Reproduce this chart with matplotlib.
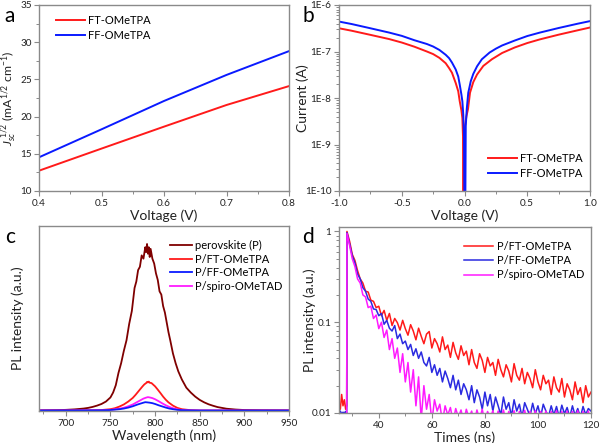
import numpy as np
import matplotlib
matplotlib.use("Agg")
import matplotlib.pyplot as plt
from matplotlib.ticker import MultipleLocator, NullLocator, LogLocator, FixedLocator, FixedFormatter, NullFormatter

plt.rcParams['font.family'] = ['Lato', 'DejaVu Sans']
plt.rcParams['mathtext.fontset'] = 'custom'
plt.rcParams['mathtext.rm'] = 'Lato'
plt.rcParams['mathtext.it'] = 'Lato:italic'

# ---------------- Panel a data ----------------
volt_a = [0.4, 0.5, 0.6, 0.7, 0.8]
jsc_ft = [12.73, 15.7, 18.65, 21.56, 24.1]
jsc_ff = [14.53, 18.29, 22.1, 25.6, 28.8]

# ---------------- Panel b data ----------------
volt_b_ft = [-1.0, -0.9, -0.75, -0.6, -0.5, -0.4, -0.3, -0.25, -0.2, -0.15, -0.123, -0.1, -0.07, -0.05,
             -0.038, -0.025, -0.017, -0.012, -0.008, -0.004, 0.0, 0.005, 0.015, 0.028, 0.044, 0.07, 0.1,
             0.15, 0.218, 0.3, 0.4, 0.5, 0.6, 0.75, 0.9, 1.0]
cur_ft = [3.16e-7, 2.8e-7, 2.28e-7, 1.85e-7, 1.56e-7, 1.27e-7, 1.0e-7, 8.8e-8, 7.3e-8, 5.6e-8, 4.4e-8,
          3.5e-8, 2.1e-8, 1.4e-8, 8.5e-9, 5.5e-9, 3.7e-9, 1.5e-9, 1e-12, 8e-10, 1.6e-9, 2.6e-9, 4e-9,
          5.8e-9, 1.3e-8, 2.2e-8, 3.2e-8, 4.9e-8, 6.8e-8, 9.3e-8, 1.22e-7, 1.52e-7, 1.82e-7, 2.3e-7,
          2.85e-7, 3.28e-7]
volt_b_ff = [-1.0, -0.9, -0.75, -0.6, -0.5, -0.4, -0.3, -0.25, -0.2, -0.15, -0.123, -0.1, -0.07, -0.05,
             -0.038, -0.025, -0.017, -0.01, -0.004, 0.003, 0.01, 0.018, 0.03, 0.05, 0.07, 0.1, 0.138,
             0.2, 0.25, 0.3, 0.4, 0.5, 0.6, 0.75, 0.9, 1.0]
cur_ff = [4.4e-7, 3.9e-7, 3.16e-7, 2.55e-7, 2.17e-7, 1.75e-7, 1.45e-7, 1.28e-7, 1.08e-7, 8.5e-8, 7.2e-8,
          5.8e-8, 4.1e-8, 2.9e-8, 1.94e-8, 1.2e-8, 8.5e-9, 4.5e-9, 1.5e-9, 1e-12, 2.5e-9, 5.8e-9, 1.3e-8,
          2.3e-8, 3.3e-8, 4.8e-8, 6.8e-8, 9.5e-8, 1.15e-7, 1.35e-7, 1.72e-7, 2.15e-7, 2.55e-7, 3.2e-7,
          3.95e-7, 4.5e-7]

# ---------------- Panel c data ----------------
wl_p = [670, 680, 690, 700, 710, 720, 725, 730, 735, 740, 745, 750, 753, 756, 759, 762, 765, 768, 771, 774,
        777, 779, 781, 783, 785, 787, 789, 790, 791, 792, 793, 794, 795, 797, 799, 801, 803, 805, 807, 809,
        811, 813, 815, 817, 820, 823, 826, 830, 835, 840, 845, 850, 855, 860, 865, 870, 880, 890, 900,
        920, 950]
pl_p = [0.0, 0.001, 0.002, 0.004, 0.007, 0.012, 0.016, 0.022, 0.03, 0.04, 0.055, 0.08, 0.11, 0.155, 0.23,
        0.29, 0.365, 0.43, 0.53, 0.61, 0.75, 0.79, 0.86, 0.88, 0.95, 0.93, 1.0, 0.97, 1.02, 0.96, 1.0, 0.94,
        0.99, 0.93, 0.9, 0.84, 0.8, 0.73, 0.71, 0.64, 0.6, 0.54, 0.48, 0.43, 0.35, 0.29, 0.24, 0.19, 0.14,
        0.11, 0.085, 0.065, 0.05, 0.038, 0.029, 0.021, 0.011, 0.006, 0.003, 0.001, 0.0]
wl_ft = [670, 730, 740, 750, 755, 760, 765, 770, 775, 778, 781, 784, 786, 788, 790, 791, 792, 793, 794, 796,
         798, 800, 803, 806, 809, 812, 815, 820, 825, 830, 840, 850, 950]
pl_ft = [0.0, 0.001, 0.003, 0.008, 0.014, 0.024, 0.037, 0.055, 0.077, 0.095, 0.115, 0.135, 0.148, 0.16,
         0.168, 0.175, 0.172, 0.177, 0.17, 0.168, 0.158, 0.148, 0.128, 0.107, 0.085, 0.066, 0.05, 0.03,
         0.016, 0.008, 0.002, 0.0, 0.0]
wl_sp = [670, 740, 750, 760, 765, 770, 775, 780, 784, 787, 790, 792, 794, 797, 800, 804, 808, 812, 816,
         820, 825, 830, 840, 850, 950]
pl_sp = [0.0, 0.001, 0.004, 0.011, 0.017, 0.026, 0.037, 0.052, 0.064, 0.073, 0.079, 0.082, 0.08, 0.076,
         0.069, 0.057, 0.044, 0.032, 0.022, 0.014, 0.007, 0.003, 0.0008, 0.0, 0.0]
wl_ff = [670, 740, 750, 760, 765, 770, 775, 780, 784, 787, 789, 791, 794, 797, 800, 804, 808, 812, 816,
         820, 825, 830, 840, 850, 950]
pl_ff = [0.0, 0.001, 0.003, 0.008, 0.012, 0.018, 0.026, 0.036, 0.043, 0.048, 0.051, 0.05, 0.048, 0.045,
         0.04, 0.032, 0.025, 0.018, 0.012, 0.008, 0.004, 0.002, 0.0005, 0.0, 0.0]

# ---------------- Panel d data ----------------
t_pre = [25.0, 25.5, 26.0, 26.5, 27.0, 27.5, 27.9]
t_decay = list(range(28, 121))
trpl_ft_pre = [0.013, 0.011, 0.016, 0.012, 0.014, 0.011, 0.012]
trpl_ft = [1.0, 0.78, 0.56, 0.48, 0.37, 0.3, 0.27, 0.22, 0.215, 0.175, 0.17, 0.145, 0.15, 0.118, 0.135,
           0.105, 0.125, 0.092, 0.11, 0.099, 0.082, 0.105, 0.085, 0.072, 0.094, 0.08, 0.064, 0.086, 0.07,
           0.058, 0.074, 0.079, 0.052, 0.066, 0.058, 0.047, 0.069, 0.05, 0.056, 0.041, 0.06, 0.046, 0.039,
           0.055, 0.043, 0.048, 0.034, 0.05, 0.036, 0.031, 0.045, 0.038, 0.028, 0.041, 0.033, 0.036, 0.026,
           0.039, 0.03, 0.025, 0.034, 0.029, 0.022, 0.035, 0.026, 0.023, 0.031, 0.021, 0.028, 0.024, 0.019,
           0.03, 0.022, 0.018, 0.026, 0.021, 0.023, 0.016, 0.025, 0.019, 0.017, 0.024, 0.015, 0.021, 0.018,
           0.014, 0.022, 0.016, 0.019, 0.013, 0.02, 0.015, 0.017]
trpl_ff_pre = [0.01, 0.0105, 0.0098, 0.0102, 0.01, 0.0104, 0.0099]
trpl_ff = [0.97, 0.73, 0.54, 0.45, 0.34, 0.3, 0.24, 0.22, 0.18, 0.17, 0.14, 0.138, 0.118, 0.125, 0.095,
           0.105, 0.086, 0.08, 0.092, 0.066, 0.074, 0.058, 0.062, 0.05, 0.057, 0.043, 0.051, 0.04, 0.047,
           0.036, 0.033, 0.041, 0.028, 0.034, 0.026, 0.031, 0.022, 0.029, 0.024, 0.019, 0.026, 0.018, 0.023,
           0.016, 0.021, 0.018, 0.014, 0.02, 0.013, 0.018, 0.015, 0.011, 0.017, 0.012, 0.016, 0.0105, 0.015,
           0.012, 0.0095, 0.015, 0.011, 0.013, 0.0092, 0.014, 0.0105, 0.0125, 0.009, 0.013, 0.011, 0.0092,
           0.0128, 0.0098, 0.012, 0.009, 0.0125, 0.0105, 0.0092, 0.012, 0.0095, 0.0118, 0.009, 0.0122,
           0.0098, 0.0115, 0.009, 0.012, 0.0094, 0.0112, 0.009, 0.0118, 0.0096, 0.0112, 0.0105]
trpl_sp_pre = [0.0092, 0.0088, 0.009, 0.0087, 0.0091, 0.0089, 0.009]
trpl_sp = [0.95, 0.7, 0.5, 0.41, 0.3, 0.27, 0.2, 0.19, 0.145, 0.15, 0.11, 0.12, 0.085, 0.1, 0.068, 0.082,
           0.05, 0.066, 0.04, 0.052, 0.028, 0.045, 0.022, 0.036, 0.017, 0.03, 0.012, 0.025, 0.0085, 0.02,
           0.011, 0.016, 0.008, 0.014, 0.0105, 0.0125, 0.008, 0.012, 0.0095, 0.0115, 0.008, 0.0112, 0.009,
           0.0108, 0.008, 0.011, 0.0088, 0.0105, 0.008, 0.0108, 0.0085, 0.011, 0.008, 0.0104, 0.0088, 0.0106,
           0.008, 0.0105, 0.0086, 0.0108, 0.008, 0.0104, 0.0085, 0.0106, 0.008, 0.0104, 0.0087, 0.0107,
           0.008, 0.0104, 0.0085, 0.0106, 0.008, 0.0104, 0.0086, 0.0105, 0.008, 0.0104, 0.0085, 0.0106,
           0.008, 0.0104, 0.0086, 0.0105, 0.008, 0.0104, 0.0085, 0.0106, 0.008, 0.0104, 0.0086, 0.0105,
           0.008]

# ---------------- Figure ----------------
W, H = 600, 443
fig = plt.figure(figsize=(6.0, 4.43), dpi=100)

def axes_px(l, t, r, b):
    return fig.add_axes([l / W, (H - b) / H, (r - l) / W, (b - t) / H])

SPINE = '#8a8a8a'
TXT = '#222222'
TICKFS = 7.2
LABFS = 10

def style(ax):
    for s in ax.spines.values():
        s.set_color(SPINE)
        s.set_linewidth(1.0)
    ax.tick_params(which='both', direction='out', color=SPINE, labelcolor=TXT,
                   labelsize=TICKFS, top=False, right=False)
    ax.tick_params(which='major', length=3.5, width=0.8, pad=2)
    ax.tick_params(which='minor', length=2, width=0.7)

# Panel a
ax_a = axes_px(39, 5, 289, 191)
ax_a.plot(volt_a, jsc_ft, color='#ff1a1a', lw=1.4, label='FT-OMeTPA')
ax_a.plot(volt_a, jsc_ff, color='#0a1aff', lw=1.4, label='FF-OMeTPA')
ax_a.set_xlim(0.4, 0.8)
ax_a.set_ylim(10, 35)
ax_a.xaxis.set_minor_locator(MultipleLocator(0.05))
ax_a.yaxis.set_major_locator(MultipleLocator(5))
ax_a.yaxis.set_minor_locator(MultipleLocator(2.5))
ax_a.set_xticks([0.4, 0.5, 0.6, 0.7, 0.8], ['0.4', '0.5', '0.6', '0.7', '0.8'])
style(ax_a)
ax_a.tick_params(axis='y', which='major', pad=1.5)
ax_a.set_xlabel('Voltage (V)', fontsize=LABFS, color=TXT, labelpad=1)
ax_a.set_ylabel(r'$J_{sc}^{\ 1/2}$ (mA$^{1/2}$ cm$^{-1}$)', fontsize=8.8, color=TXT)
ax_a.yaxis.set_label_coords(-0.082, 0.5)
ax_a.legend(loc='upper left', bbox_to_anchor=(0.05, 0.97), frameon=False, fontsize=8,
            handlelength=2.6, handletextpad=0.3, labelspacing=0.35, borderaxespad=0)
fig.text(4 / W, 1 - 22 / H, 'a', fontsize=15, color='black')

# Panel b
ax_b = axes_px(339, 5, 590, 191)
ax_b.plot(volt_b_ft, cur_ft, color='#ff1a1a', lw=1.4, label='FT-OMeTPA')
ax_b.plot(volt_b_ff, cur_ff, color='#0a1aff', lw=1.4, label='FF-OMeTPA')
ax_b.set_yscale('log')
ax_b.set_xlim(-1.0, 1.0)
ax_b.set_ylim(1e-10, 1e-6)
ax_b.xaxis.set_minor_locator(MultipleLocator(0.25))
ax_b.set_xticks([-1.0, -0.5, 0.0, 0.5, 1.0], ['-1.0', '-0.5', '0.0', '0.5', '1.0'])
ax_b.yaxis.set_major_locator(FixedLocator([1e-10, 1e-9, 1e-8, 1e-7, 1e-6]))
ax_b.yaxis.set_major_formatter(FixedFormatter(['1E-10', '1E-9', '1E-8', '1E-7', '1E-6']))
ax_b.yaxis.set_minor_locator(LogLocator(base=10, subs=np.arange(2, 10)))
ax_b.yaxis.set_minor_formatter(NullFormatter())
style(ax_b)
ax_b.set_xlabel('Voltage (V)', fontsize=LABFS, color=TXT, labelpad=1)
ax_b.set_ylabel('Current (A)', fontsize=LABFS, color=TXT)
ax_b.yaxis.set_label_coords(-0.12, 0.5)
ax_b.legend(loc='lower right', bbox_to_anchor=(0.99, 0.04), frameon=False, fontsize=8,
            handlelength=2.6, handletextpad=0.3, labelspacing=0.35, borderaxespad=0)
fig.text(302 / W, 1 - 22 / H, 'b', fontsize=15, color='black')

# Panel c
ax_c = axes_px(39, 226, 289, 411)
l1, = ax_c.plot(wl_p, pl_p, color='#7f0000', lw=1.3, label='perovskite (P)')
l2, = ax_c.plot(wl_ft, pl_ft, color='#ff1a1a', lw=1.3, label='P/FT-OMeTPA')
l4, = ax_c.plot(wl_sp, pl_sp, color='#ff1aff', lw=1.3, label='P/spiro-OMeTAD')
l3, = ax_c.plot(wl_ff, pl_ff, color='#0a1aff', lw=1.3, label='P/FF-OMeTPA')
ax_c.set_xlim(670, 950)
ax_c.set_ylim(-0.003, 1.13)
ax_c.xaxis.set_major_locator(MultipleLocator(50))
ax_c.xaxis.set_minor_locator(MultipleLocator(25))
ax_c.yaxis.set_major_locator(NullLocator())
ax_c.yaxis.set_minor_locator(NullLocator())
style(ax_c)
ax_c.set_xlabel('Wavelength (nm)', fontsize=LABFS, color=TXT, labelpad=1)
ax_c.set_ylabel('PL intensity (a.u.)', fontsize=LABFS, color=TXT)
ax_c.yaxis.set_label_coords(-0.06, 0.5)
ax_c.legend(handles=[l1, l2, l3, l4], loc='upper right', bbox_to_anchor=(0.99, 0.95), frameon=False,
            fontsize=8, handlelength=2.0, handletextpad=0.2, labelspacing=0.25, borderaxespad=0)
fig.text(5 / W, 1 - 243 / H, 'c', fontsize=15, color='black')

# Panel d
ax_d = axes_px(339, 227, 591, 413)
ax_d.plot(t_pre + t_decay, trpl_ft_pre + trpl_ft, color='#ff1a1a', lw=1.1, label='P/FT-OMeTPA')
ax_d.plot(t_pre + t_decay, trpl_ff_pre + trpl_ff, color='#2a2ae0', lw=1.1, label='P/FF-OMeTPA')
ax_d.plot(t_pre + t_decay, trpl_sp_pre + trpl_sp, color='#ff1aff', lw=1.1, label='P/spiro-OMeTAD')
ax_d.set_yscale('log')
ax_d.set_xlim(25, 120)
ax_d.set_ylim(0.01, 1.12)
ax_d.xaxis.set_major_locator(MultipleLocator(20))
ax_d.xaxis.set_minor_locator(MultipleLocator(10))
ax_d.yaxis.set_major_locator(FixedLocator([0.01, 0.1, 1]))
ax_d.yaxis.set_major_formatter(FixedFormatter(['0.01', '0.1', '1']))
ax_d.yaxis.set_minor_locator(LogLocator(base=10, subs=np.arange(2, 10)))
ax_d.yaxis.set_minor_formatter(NullFormatter())
style(ax_d)
ax_d.set_xlabel('Times (ns)', fontsize=LABFS, color=TXT, labelpad=1)
ax_d.set_ylabel('PL intensity (a.u.)', fontsize=LABFS, color=TXT)
ax_d.yaxis.set_label_coords(-0.09, 0.5)
ax_d.legend(loc='upper right', bbox_to_anchor=(0.99, 0.95), frameon=False, fontsize=8,
            handlelength=2.6, handletextpad=0.3, labelspacing=0.3, borderaxespad=0)
fig.text(302 / W, 1 - 243 / H, 'd', fontsize=15, color='black')

fig.savefig('out.png', dpi=100)
